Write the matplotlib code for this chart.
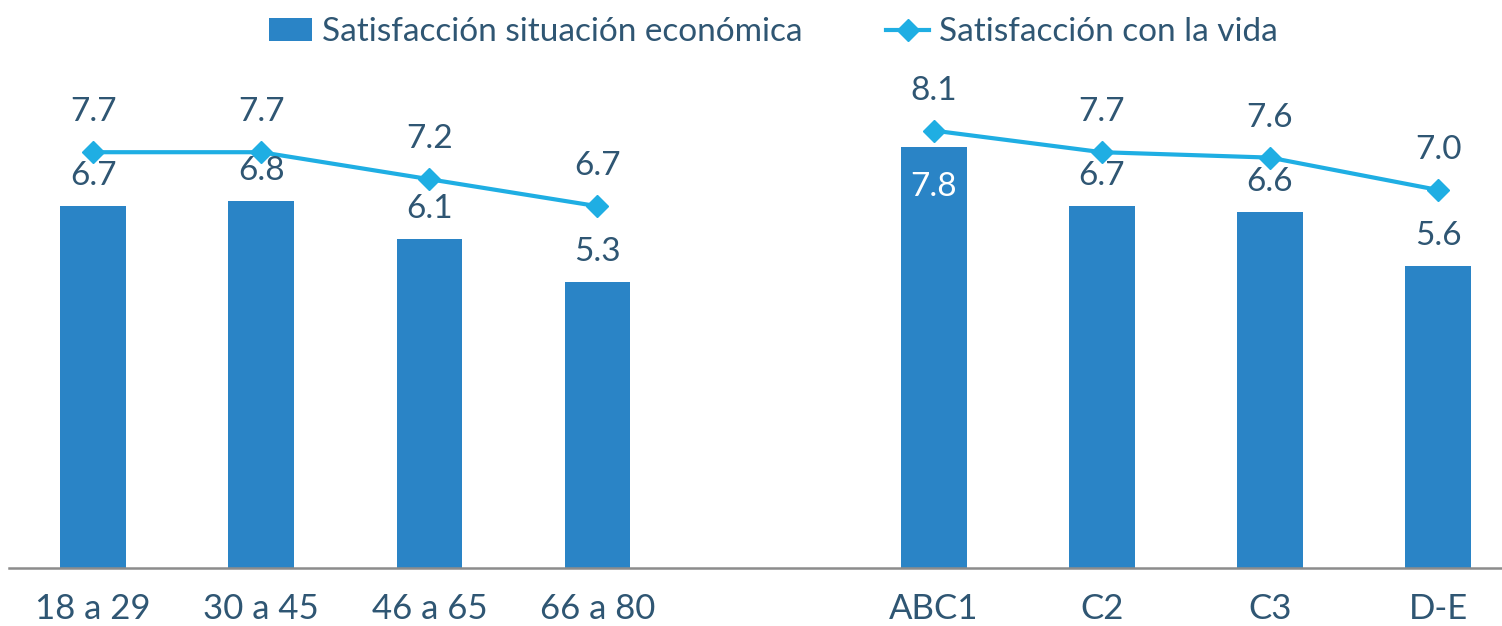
import matplotlib
matplotlib.use("Agg")
import matplotlib.pyplot as plt
import numpy as np

categories = ["18 a 29", "30 a 45", "46 a 65", "66 a 80", "", "ABC1", "C2", "C3", "D-E"]
bar_values = [6.7, 6.8, 6.1, 5.3, None, 7.8, 6.7, 6.6, 5.6]
line_values = [7.7, 7.7, 7.2, 6.7, None, 8.1, 7.7, 7.6, 7.0]
bar_label = "Satisfacción situación económica"
line_label = "Satisfacción con la vida"

BAR_C = "#2A84C6"
LINE_C = "#1FAEE3"
TXT_C = "#2F5673"

plt.rcParams['font.family'] = ['Lato', 'DejaVu Sans']

W, H = 1502, 626
fig = plt.figure(figsize=(W/100, H/100), dpi=100)
left = 9/W
bottom = (H-568)/H
ax = fig.add_axes([left, bottom, 1-left, 513/H])

x = np.arange(len(categories))
bx = [xi for xi, v in zip(x, bar_values) if v is not None]
bv = [v for v in bar_values if v is not None]
bars = ax.bar(bx, bv, width=0.39, color=BAR_C, label=bar_label, zorder=2)

lv = np.array([np.nan if v is None else v for v in line_values])
ln, = ax.plot(x, lv, color=LINE_C, lw=3, marker="D", markersize=11, label=line_label, zorder=3)

FS = 24
for xi, v in zip(bx, bv):
    if v >= 7.5:
        ax.annotate(f"{v:.1f}", (xi, v), xytext=(0, -40), textcoords="offset pixels",
                    ha="center", va="center", color="white", fontsize=FS)
    else:
        ax.annotate(f"{v:.1f}", (xi, v), xytext=(0, 30), textcoords="offset pixels",
                    ha="center", va="center", color=TXT_C, fontsize=FS)
for xi, v in zip(x, line_values):
    if v is None:
        continue
    ax.annotate(f"{v:.1f}", (xi, v), xytext=(0, 40), textcoords="offset pixels",
                ha="center", va="center", color=TXT_C, fontsize=FS)

ax.set_xlim(-0.5, 8.38)
ax.set_ylim(0, 9.5)
ax.set_xticks(x)
ax.set_xticklabels(categories, fontsize=25, color=TXT_C)
ax.tick_params(axis="x", length=0, pad=18)
ax.set_yticks([])
for s in ["top", "right", "left"]:
    ax.spines[s].set_visible(False)
ax.spines["bottom"].set_color("#8C8C8C")
ax.spines["bottom"].set_linewidth(1.8)

leg = fig.legend(handles=[bars, ln], labels=[bar_label, line_label],
                 loc="upper center", bbox_to_anchor=(0.515, 1.02), ncol=2, frameon=False,
                 fontsize=24, handlelength=1.3, handletextpad=0.3, columnspacing=2.5,
                 labelcolor=TXT_C)

fig.savefig("out.png", dpi=100)
